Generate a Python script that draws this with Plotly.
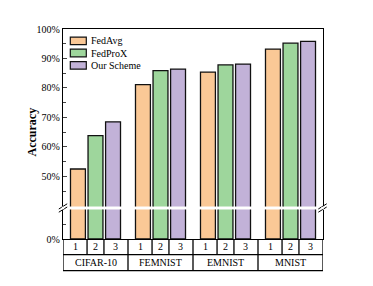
import plotly.graph_objects as go

categories = ["CIFAR-10", "FEMNIST", "EMNIST", "MNIST"]
sub_labels = ["1", "2", "3"]
series_names = ["FedAvg", "FedProX", "Our Scheme"]
fedavg = [52.5, 81.1, 85.4, 93.2]
fedprox = [63.8, 85.9, 87.8, 95.2]
ours = [68.5, 86.4, 88.1, 95.8]
upper_ticks = [50, 60, 70, 80, 90, 100]
upper_tick_text = ["50%", "60%", "70%", "80%", "90%", "100%"]
lower_ticks = [0]
lower_tick_text = ["0%"]

colors = ["#FAC896", "#9ED69C", "#C2B2D8"]
series = [fedavg, fedprox, ours]
FONT = "Liberation Serif, Times New Roman, serif"

# page body has an 8px margin, compensate
OFF = 8
W, H = 373, 286
L, R, T, B = 62.7, 322.7, 29.3, 239.3
PW, PH = R - L, B - T


def px(x):
    return (x - L) / PW


def py(y):
    return (B - y) / PH


fig = go.Figure()
xs = list(range(len(categories)))
for name, vals, col in zip(series_names, series, colors):
    for xa, ya in (("x", "y"), ("x2", "y2")):
        fig.add_trace(go.Bar(
            x=xs, y=vals, name=name, xaxis=xa, yaxis=ya,
            marker=dict(color=col, line=dict(color="#111111", width=1.3)),
            showlegend=False,
        ))

lower_top = py(209.8)
upper_bot = py(206.7)

axis_common = dict(showline=True, linecolor="black", linewidth=1.3,
                   showgrid=False, zeroline=False)

fig.update_layout(
    width=W, height=H,
    margin=dict(l=L - OFF, r=W - R + OFF, t=T - OFF, b=H - B + OFF, pad=0),
    paper_bgcolor="white", plot_bgcolor="white",
    barmode="group", bargap=0.19, bargroupgap=0.15,
    font=dict(family=FONT, size=10, color="black"),
    xaxis=dict(domain=[0, 1], range=[-0.5, 3.5], anchor="y",
               showticklabels=False, ticks="", **axis_common),
    xaxis2=dict(domain=[0, 1], range=[-0.5, 3.5], anchor="y2", matches="x",
                side="top", showticklabels=False, ticks="", **axis_common),
    yaxis=dict(domain=[0, lower_top], range=[0, 10], anchor="x",
               tickvals=lower_ticks, ticktext=lower_tick_text,
               ticks="inside", ticklen=4, tickwidth=1, mirror=True,
               minor=dict(tickvals=[5], ticks="inside", ticklen=2.5, tickwidth=1),
               **axis_common),
    yaxis2=dict(domain=[upper_bot, 1], range=[39.82, 100], anchor="x2",
                tickvals=upper_ticks, ticktext=upper_tick_text,
                ticks="inside", ticklen=4, tickwidth=1, mirror=True,
                minor=dict(tickvals=[45, 55, 65, 75, 85, 95], ticks="inside",
                           ticklen=2.5, tickwidth=1),
                **axis_common),
)

shapes = []
row1 = py(255.0)
row2 = py(271.0)
lw = 1.3
for yv in (row1, row2):
    shapes.append(dict(type="line", xref="x", yref="paper", x0=-0.5, x1=3.5,
                       y0=yv, y1=yv, line=dict(color="black", width=lw)))
for g in range(len(categories) + 1):
    xv = g - 0.5
    shapes.append(dict(type="line", xref="x", yref="paper", x0=xv, x1=xv,
                       y0=0, y1=row2, line=dict(color="black", width=lw)))
for g in range(len(categories)):
    for off in (-0.13, 0.13):
        shapes.append(dict(type="line", xref="x", yref="paper", x0=g + off, x1=g + off,
                           y0=0, y1=row1, line=dict(color="black", width=lw)))

# axis break marks
for xc in (L, R - 0.5):
    for dy in (-1.6, 1.6):
        shapes.append(dict(type="line", xref="paper", yref="paper",
                           x0=px(xc - 4.2), x1=px(xc + 4.2),
                           y0=py(208.3 + dy + 2.6), y1=py(208.3 + dy - 2.6),
                           line=dict(color="black", width=1)))
    shapes.append(dict(type="rect", xref="paper", yref="paper",
                       x0=px(xc - 1.2), x1=px(xc + 1.2), y0=py(209.5), y1=py(207.1),
                       fillcolor="white", line=dict(width=0), layer="above"))

annotations = []
sub_off = [-0.315, 0.0, 0.31]
for g, cat in enumerate(categories):
    for k, lab in enumerate(sub_labels):
        annotations.append(dict(x=g + sub_off[k], y=(0 + row1) / 2, xref="x", yref="paper",
                                text=lab, showarrow=False, font=dict(size=10),
                                xanchor="center", yanchor="middle"))
    annotations.append(dict(x=g, y=(row1 + row2) / 2, xref="x", yref="paper",
                            text=cat, showarrow=False, font=dict(size=10),
                            xanchor="center", yanchor="middle"))

annotations.append(dict(x=px(32), y=py(132.5), xref="paper", yref="paper",
                        text="<b>Accuracy</b>", textangle=-90, showarrow=False,
                        xanchor="center", yanchor="middle",
                        font=dict(size=12)))

# legend (manual, compact)
leg_y = [41.2, 53.3, 65.7]
for name, col, yc in zip(series_names, colors, leg_y):
    shapes.append(dict(type="rect", xref="paper", yref="paper",
                       x0=px(70), x1=px(86), y0=py(yc + 3.8), y1=py(yc - 3.8),
                       fillcolor=col, line=dict(color="#111111", width=1.2)))
    annotations.append(dict(x=px(89), y=py(yc), xref="paper", yref="paper",
                            text=name, showarrow=False, xanchor="left",
                            yanchor="middle", font=dict(size=10)))

fig.update_layout(shapes=shapes, annotations=annotations)
fig.write_html("out.html")
